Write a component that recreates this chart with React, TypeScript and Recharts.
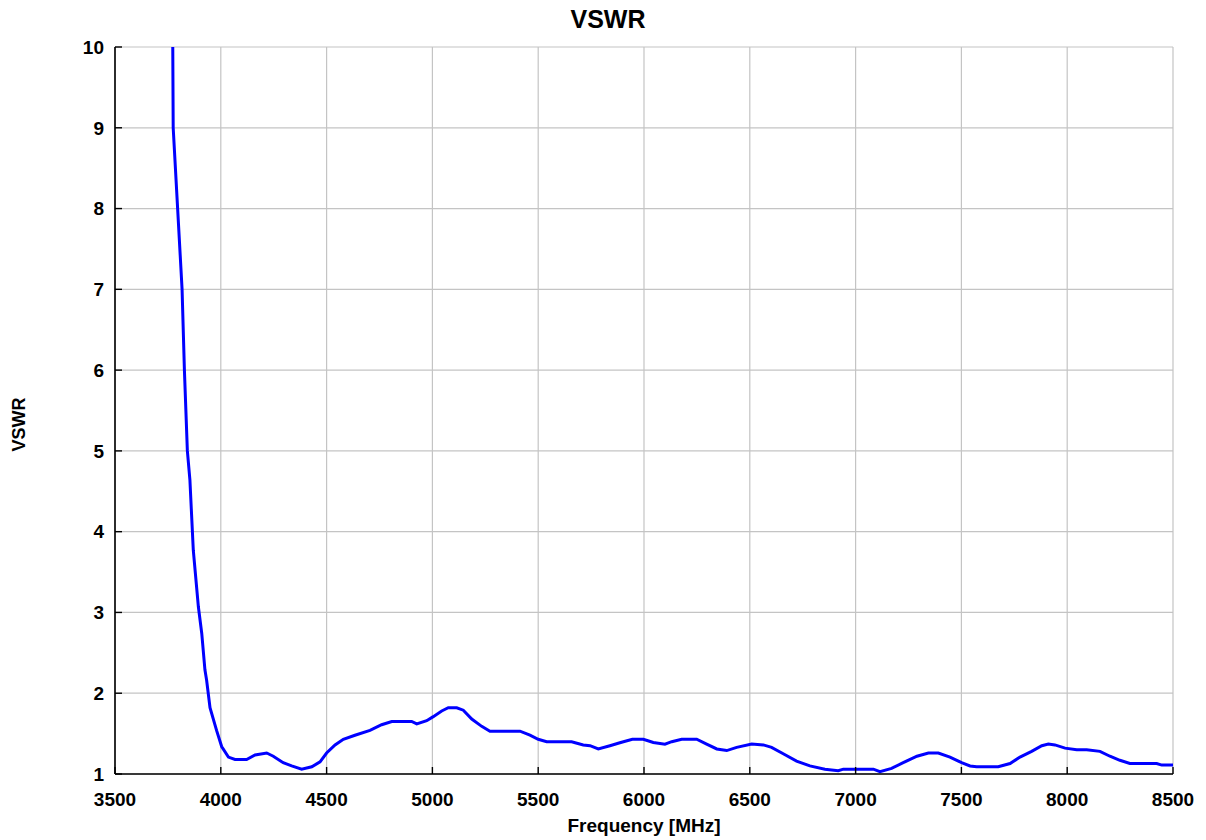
import React from 'react';
import { LineChart, Line, XAxis, YAxis, CartesianGrid, Label } from 'recharts';

const freqMHz = [
  3773, 3775, 3796, 3817, 3828, 3842, 3854, 3870, 3894, 3910, 3925, 3933, 3949, 3980,
  4004, 4036, 4067, 4122, 4162, 4217, 4248, 4295, 4335, 4382, 4430, 4469, 4500, 4540,
  4579, 4634, 4705, 4760, 4808, 4902, 4926, 4973, 5004, 5044, 5075, 5115, 5146, 5186,
  5233, 5272, 5414, 5461, 5500, 5540, 5658, 5713, 5745, 5784, 5839, 5890, 5945, 5997,
  6044, 6099, 6131, 6178, 6249, 6296, 6344, 6391, 6438, 6509, 6564, 6603, 6658, 6721,
  6784, 6855, 6918, 6942, 7084, 7115, 7170, 7225, 7290, 7344, 7391, 7446, 7501, 7541,
  7572, 7674, 7730, 7777, 7832, 7880, 7911, 7942, 7990, 8045, 8092, 8155, 8202, 8249,
  8296, 8423, 8447, 8500,
];

const vswrValues = [
  10.0, 9.0, 8.0, 7.0, 6.0, 5.0, 4.64, 3.77, 3.07, 2.74, 2.29, 2.16, 1.82, 1.54,
  1.34, 1.21, 1.18, 1.18, 1.235, 1.26, 1.22, 1.14, 1.1, 1.06, 1.09, 1.15, 1.26, 1.36,
  1.43, 1.48, 1.54, 1.61, 1.65, 1.65, 1.62, 1.66, 1.71, 1.78, 1.82, 1.82, 1.79, 1.68,
  1.59, 1.53, 1.53, 1.48, 1.43, 1.4, 1.4, 1.36, 1.35, 1.31, 1.35, 1.39, 1.43, 1.43,
  1.39, 1.37, 1.4, 1.43, 1.43, 1.37, 1.31, 1.29, 1.33, 1.37, 1.36, 1.33, 1.25, 1.16,
  1.1, 1.06, 1.04, 1.06, 1.06, 1.03, 1.07, 1.14, 1.22, 1.26, 1.26, 1.21, 1.14, 1.1,
  1.09, 1.09, 1.13, 1.21, 1.28, 1.35, 1.37, 1.36, 1.32, 1.3, 1.3, 1.28, 1.22, 1.17,
  1.13, 1.13, 1.11, 1.11,
];

const xTicks = [3500, 4000, 4500, 5000, 5500, 6000, 6500, 7000, 7500, 8000, 8500];
const yTicks = [1, 2, 3, 4, 5, 6, 7, 8, 9, 10];

const chartTitle = 'VSWR';
const xTitle = 'Frequency [MHz]';
const yTitle = 'VSWR';

const data = freqMHz.map((f, i) => ({ f, v: vswrValues[i] }));

const FONT = '"Liberation Sans", Arial, Helvetica, sans-serif';
const tickStyle = { fontFamily: FONT, fontWeight: 700, fontSize: 19, fill: '#000' };

export default function App() {
  return (
    <div style={{ position: 'absolute', left: 0, top: 0, width: 1206, height: 840, background: '#fff' }}>
      <div
        style={{
          position: 'absolute',
          left: 5,
          top: 7,
          width: 1206,
          textAlign: 'center',
          fontFamily: FONT,
          fontWeight: 700,
          fontSize: 25,
          lineHeight: '25px',
          color: '#000',
        }}
      >
        {chartTitle}
      </div>
      <LineChart
        width={1206}
        height={840}
        data={data}
        margin={{ top: 47, right: 33, bottom: 0, left: 0 }}
      >
        <CartesianGrid stroke="#c4c4c4" strokeWidth={1.2} />
        <XAxis
          dataKey="f"
          type="number"
          domain={[3500, 8500]}
          ticks={xTicks}
          allowDataOverflow
          height={66}
          tickSize={-7}
          tickMargin={26}
          tick={tickStyle}
          axisLine={{ stroke: '#000', strokeWidth: 1.6 }}
          tickLine={{ stroke: '#000', strokeWidth: 1.4 }}
        >
          <Label
            value={xTitle}
            position="insideBottom"
            offset={8}
            style={{ fontFamily: FONT, fontWeight: 700, fontSize: 19, fill: '#000' }}
          />
        </XAxis>
        <XAxis
          xAxisId="top"
          orientation="top"
          dataKey="f"
          type="number"
          domain={[3500, 8500]}
          ticks={xTicks}
          allowDataOverflow
          height={0}
          tickSize={-7}
          tick={false}
          axisLine={{ stroke: '#000', strokeWidth: 1.6 }}
          tickLine={{ stroke: '#000', strokeWidth: 1.4 }}
        />
        <YAxis
          type="number"
          domain={[1, 10]}
          ticks={yTicks}
          allowDataOverflow
          width={115}
          tickSize={-7}
          tickMargin={18}
          tick={tickStyle}
          axisLine={{ stroke: '#000', strokeWidth: 1.6 }}
          tickLine={{ stroke: '#000', strokeWidth: 1.4 }}
        >
          <Label
            content={(props: any) => {
              const vb = props.viewBox || {};
              const cx = vb.x + 19;
              const cy = vb.y + vb.height / 2 + 14;
              return (
                <text
                  x={cx}
                  y={cy}
                  transform={`rotate(-90 ${cx} ${cy})`}
                  textAnchor="middle"
                  dominantBaseline="central"
                  style={{ fontFamily: FONT, fontWeight: 700, fontSize: 18, fill: '#000' }}
                >
                  {yTitle}
                </text>
              );
            }}
          />
        </YAxis>
        <YAxis
          yAxisId="right"
          orientation="right"
          type="number"
          domain={[1, 10]}
          ticks={yTicks}
          allowDataOverflow
          width={0}
          tickSize={-7}
          tick={false}
          axisLine={{ stroke: '#000', strokeWidth: 1.6 }}
          tickLine={{ stroke: '#000', strokeWidth: 1.4 }}
        />
        <Line
          type="linear"
          dataKey="v"
          stroke="#0000ff"
          strokeWidth={3}
          dot={false}
          activeDot={false}
          isAnimationActive={false}
        />
      </LineChart>
    </div>
  );
}
